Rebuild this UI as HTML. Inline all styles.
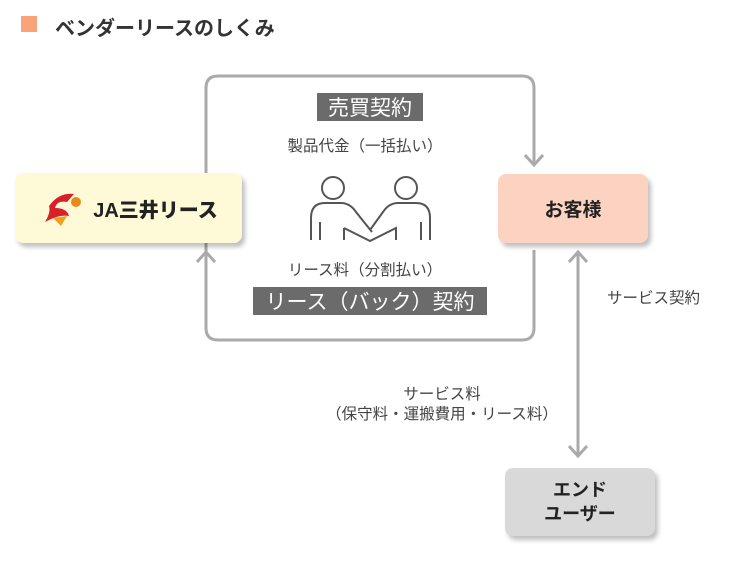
<!DOCTYPE html>
<html><head><meta charset="utf-8"><style>
body{margin:0;width:736px;height:563px;background:#fff;position:relative;overflow:hidden;font-family:"Liberation Sans","Noto Sans CJK JP",sans-serif;color:#333}
.a{position:absolute}
.box{position:absolute;border-radius:8px;box-shadow:3px 4px 5px rgba(0,0,0,0.25);display:flex;align-items:center;justify-content:center;text-align:center;font-weight:bold;color:#222}
.lbl{position:absolute;background:#6b6b6b;color:#fff;font-size:21px;display:flex;align-items:center;justify-content:center}
.t{position:absolute;font-size:15.5px;color:#444;white-space:nowrap;text-align:center}
</style></head><body>
<div class="a" style="left:21px;top:16px;width:16px;height:16px;background:#f9a37a"></div>
<div class="a" style="left:55px;top:12px;font-size:20px;font-weight:bold;color:#333">ベンダーリースのしくみ</div>
<svg class="a" style="left:0;top:0" width="736" height="563">
<g fill="none" stroke="#aaa" stroke-width="3">
<path d="M534 165 V88 Q534 76 522 76 H218 Q206 76 206 88 V328 Q206 340 218 340 H522 Q534 340 534 328 V250"/>
<path d="M525 155 L534 165 L543 155"/>
<path d="M206 252 V260"/>
<path d="M197 262 L206 252 L215 262"/>
<path d="M578 252 V456"/>
<path d="M569 262 L578 252 L587 262"/>
<path d="M569 446 L578 456 L587 446"/>
</g>
<g fill="none" stroke="#555" stroke-width="2">
<circle cx="333" cy="188" r="11"/>
<circle cx="406" cy="188" r="11"/>
<path d="M311 240 V218 Q311 203 325 203 H341 Q350 203 356 212 L372 232"/>
<path d="M430 240 V218 Q430 203 416 203 H398 Q389 203 383 212 L370 230"/>
<path d="M320 222 V240 M421 222 V240"/>
<path d="M344 228 L370 241 L396 228 V240"/>
<path d="M344 228 V240"/>
</g>
</svg>
<div class="box" style="left:15px;top:173px;width:227px;height:70px;background:#fef9d7">
<svg width="50" height="40" style="margin-right:4px"><path d="M10 18 Q20 4 35 6 L28 14 Q18 12 16 20 Q28 20 30 28 Q20 26 6 34 Q12 24 10 18Z" fill="#d8202a"/><circle cx="37" cy="14" r="5" fill="#e88a1a"/><path d="M14 30 L28 28 L22 38Z" fill="#f0a020"/></svg>
<span style="font-size:20px;font-weight:900;color:#222">JA三井リース</span></div>
<div class="box" style="left:498px;top:174px;width:150px;height:69px;background:#fcd3c1;font-size:19px">お客様</div>
<div class="box" style="left:505px;top:468px;width:150px;height:68px;background:#d9d9d9;font-size:18px;line-height:24px">エンド<br>ユーザー</div>
<div class="lbl" style="left:317px;top:93px;width:106px;height:28px">売買契約</div>
<div class="lbl" style="left:253px;top:287px;width:234px;height:28px">リース（バック）契約</div>
<div class="t" style="left:245px;top:134px;width:240px">製品代金（一括払い）</div>
<div class="t" style="left:245px;top:258px;width:240px">リース料（分割払い）</div>
<div class="t" style="left:607px;top:286px">サービス契約</div>
<div class="t" style="left:302px;top:382px;width:280px">サービス料</div>
<div class="t" style="left:302px;top:402px;width:280px">（保守料・運搬費用・リース料）</div>
</body></html>
